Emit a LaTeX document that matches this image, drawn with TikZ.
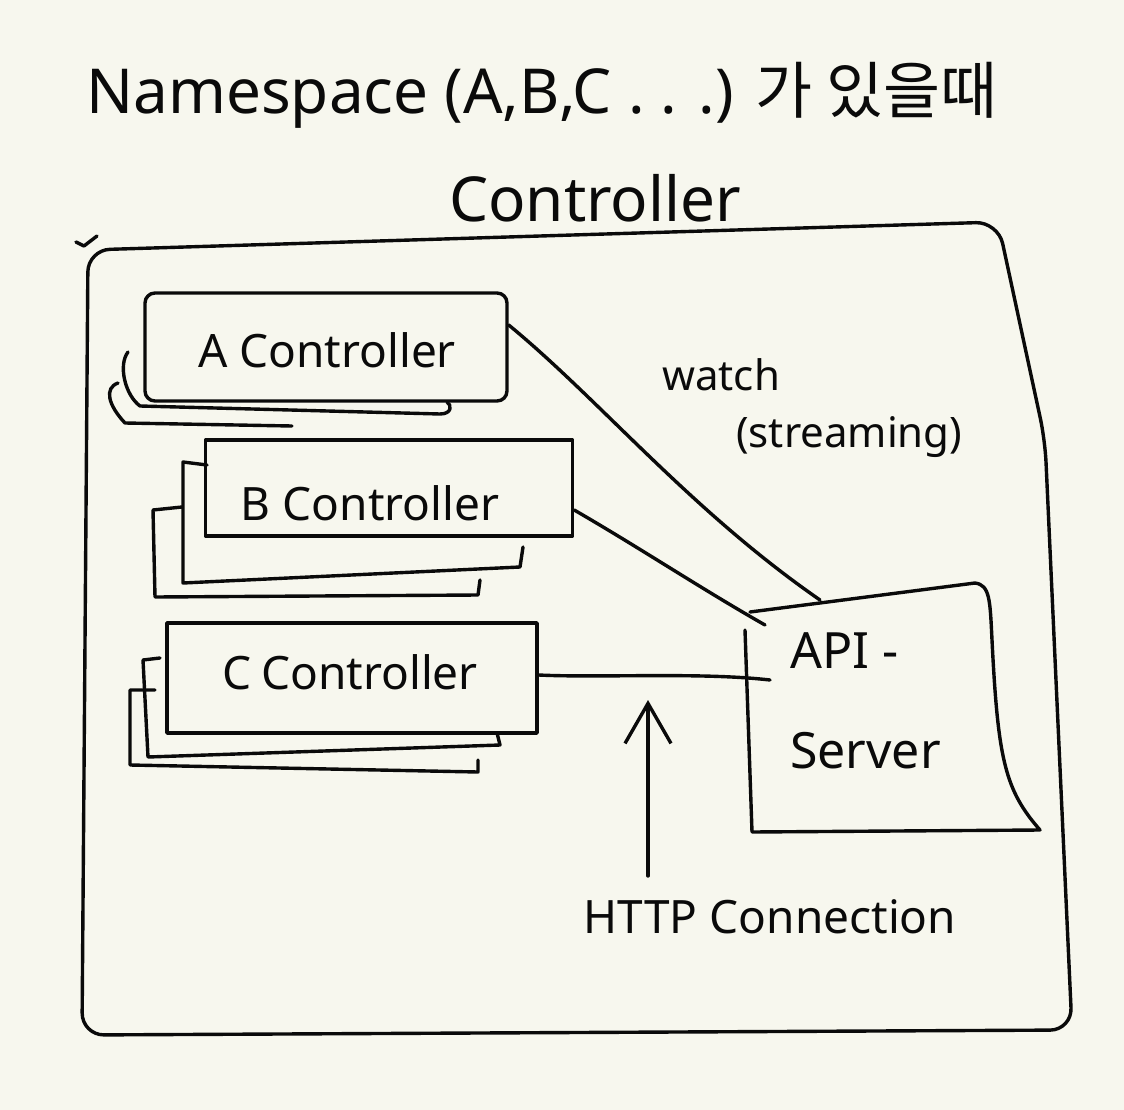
\documentclass[tikz,border=0pt]{standalone}
\usepackage{fontspec}
\setmainfont{Noto Sans}
\newfontfamily\krfont{Noto Sans CJK KR}
\usetikzlibrary{arrows.meta}
\definecolor{paper}{RGB}{247,247,238}
\definecolor{ink}{RGB}{10,10,10}
\tikzset{
  pen/.style={draw=ink, line width=3.4pt, line cap=round, line join=round},
  lbl/.style={inner sep=0pt, text=ink},
  ctrlbox/.style={pen, inner sep=0pt},
}
\begin{document}
\begin{tikzpicture}[x=1pt,y=-1pt]
\fill[paper] (0,0) rectangle (1124,1110);
\useasboundingbox (0,0) rectangle (1124,1110);

% titles
\node[lbl] (title) at (542,95) {\fontsize{62}{70}\selectfont Namespace (A,B,C . . .) {\krfont 가 있을때}};
\node[lbl] (title2) at (595,198) {\fontsize{62}{70}\selectfont Controller};

% outer frame
\draw[pen, rounded corners=22pt] (88,250) -- (540,236) -- (998,222) -- (1045,440) -- (1072,1030) -- (82,1035) -- cycle;
\draw[pen] (76,242) -- (84,246) -- (97,236);

% A controller stack
\draw[pen] (128,352) .. controls (118,365) and (125,395) .. (140,406) -- (440,414) .. controls (452,414) and (452,405) .. (447,402);
\draw[pen] (118,383) .. controls (104,388) and (108,405) .. (125,423) -- (292,426);
\node[ctrlbox, rounded corners=10pt, minimum width=362pt, minimum height=108pt] (A) at (326,347) {};
\node[lbl] (Alabel) at (327,350) {\fontsize{46}{50}\selectfont A Controller};

% B controller stack
\draw[pen] (207,465) -- (183,462) -- (183,583) -- (520,567) -- (523,547);
\draw[pen] (182,507) -- (153,510) -- (155,597) -- (478,595) -- (480,580);
\node[ctrlbox, minimum width=367pt, minimum height=96pt] (B) at (389,488) {};
\node[lbl] (Blabel) at (370,503) {\fontsize{46}{50}\selectfont B Controller};

% C controller stack
\draw[pen] (160,658) -- (143,660) -- (148,757) -- (500,745) -- (497,733);
\draw[pen] (155,690) -- (130,690) -- (130,765) -- (478,772) -- (478,760);
\node[ctrlbox, minimum width=370pt, minimum height=110pt] (C) at (352,678) {};
\node[lbl] (Clabel) at (350,672) {\fontsize{46}{50}\selectfont C\hspace{10pt}Controller};

% API server
\node[lbl, minimum width=290pt, minimum height=245pt] (api) at (892,708) {};
\draw[pen] (750,612) -- (975,583) .. controls (990,585) and (990,600) .. (992,640)
  .. controls (998,760) and (1005,790) .. (1040,830)
  -- (752,832) -- (745,630);
\node[lbl, align=left, anchor=north west, font=\fontsize{50}{100}\selectfont] (apilabel) at (790,632) {API -\\Server};

% watch label
\node[lbl, anchor=west] (watch) at (662,375) {\fontsize{42}{46}\selectfont watch};
\node[lbl, anchor=west] (stream) at (736,437) {\fontsize{42}{46}\selectfont (streaming)};

% connectors
\draw[pen] ([yshift=22pt]A.east) .. controls (600,400) and (690,510) .. (820,600);
\draw[pen] ([yshift=-22pt]B.east) .. controls (640,548) and (700,588) .. (765,625);
\draw[pen] ([yshift=3pt]C.east) .. controls (600,678) and (700,672) .. (770,680);

% HTTP connection
\node[lbl] (http) at (770,917) {\fontsize{46}{50}\selectfont HTTP Connection};
\coordinate (arrtip) at (648,700);
\draw[pen, -{Straight Barb[length=40pt,width=46pt,line width=3.4pt]}] (648,876) -- (arrtip);
\end{tikzpicture}
\end{document}
